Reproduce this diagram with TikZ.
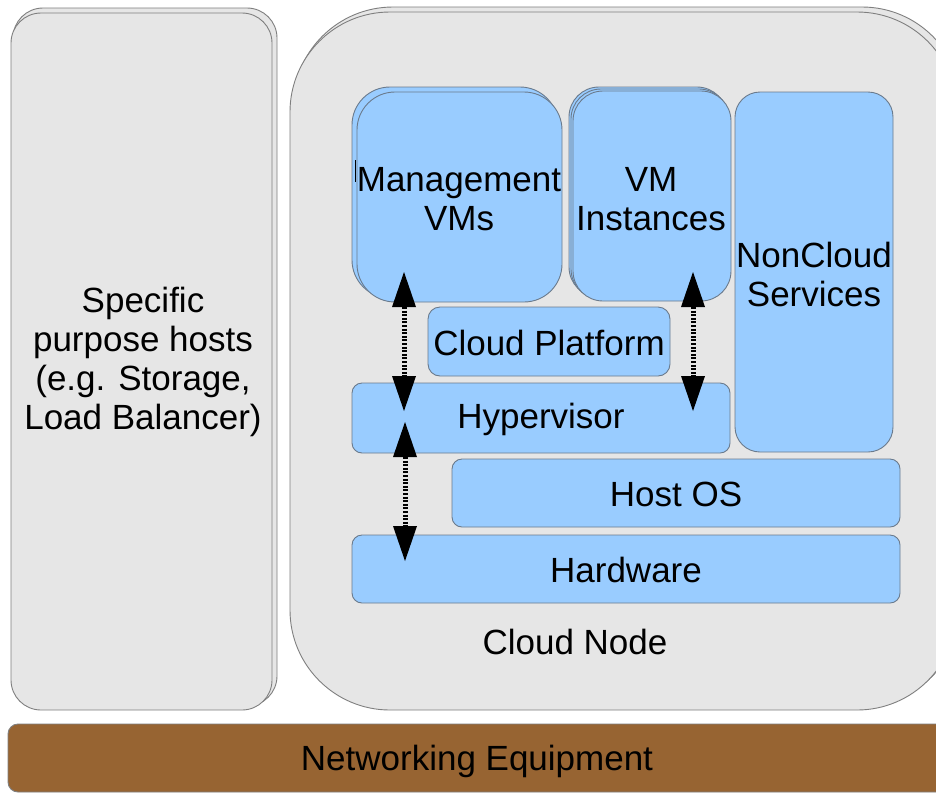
\documentclass[tikz,border=0pt]{standalone}
\usepackage{fontspec}
\setmainfont{Liberation Sans}
\usetikzlibrary{arrows.meta}
\definecolor{panelgray}{HTML}{E6E6E6}
\definecolor{panelline}{HTML}{7F7F7F}
\definecolor{layerblue}{HTML}{99CCFF}
\definecolor{layerline}{HTML}{6A7A8C}
\definecolor{netbrown}{HTML}{976432}
\tikzset{
  base/.style={inner sep=0pt, outer sep=0pt, align=center,
    font=\fontsize{35}{39}\selectfont},
  graypanel/.style={base, draw=panelline, fill=panelgray, line width=0.9pt},
  bluelayer/.style={base, draw=layerline, fill=layerblue, line width=0.9pt},
  netbar/.style={base, draw=panelline, fill=netbrown, line width=0.9pt},
  link/.style={line width=5pt, dash pattern=on 2pt off 1.6pt,
    {Triangle[width=24pt,length=35pt,line width=0pt]}-{Triangle[width=24pt,length=35pt,line width=0pt]}},
}
% box from its corners: #1 name, #2 style, #3 x1, #4 y1, #5 x2, #6 y2, #7 text
\newcommand{\boxat}[7]{%
  \node[#2, minimum width=#5pt-#3pt, minimum height=#6pt-#4pt]
    (#1) at ({(#3+#5)/2},{(#4+#6)/2}) {#7};}
\begin{document}
\begin{tikzpicture}[x=1pt,y=-1pt]
\useasboundingbox (0,0) rectangle (936,793);
\clip (0,0) rectangle (936,793);
\fill[white] (0,0) rectangle (936,793);

% special purpose hosts (stacked)
\boxat{hostsback}{graypanel, rounded corners=30pt}{13}{8}{277}{706}{}
\boxat{hosts}{graypanel, rounded corners=30pt}{11}{13}{272}{710}{}
\node[base] (hoststxt) at (143,362) {Specific\\purpose hosts\\(e.g. Storage,\\Load Balancer)};

% cloud node (stacked)
\boxat{nodeback}{graypanel, rounded corners=100pt}{293}{7}{962}{705}{}
\boxat{cloudnode}{graypanel, rounded corners=100pt}{290}{12}{957}{710}{}
\node[base] (nodetxt) at (575,642) {Cloud Node};

% management VMs (stacked)
\boxat{mgmtback}{bluelayer, rounded corners=38pt}{352}{87}{558}{298}{}
\boxat{mgmt}{bluelayer, rounded corners=38pt}{357}{92}{562}{302}{}
\node[base] (mgmttxt) at (459,199) {Management\\VMs};
\draw[line width=1.3pt] (355.5,160) -- (355.5,182);

% VM instances (stacked)
\boxat{vmback}{bluelayer, rounded corners=30pt}{569}{87}{727}{297}{}
\boxat{vmmid}{bluelayer, rounded corners=30pt}{571}{89}{729}{299}{}
\boxat{vms}{bluelayer, rounded corners=30pt}{573}{91}{731}{301}{}
\node[base] (vmstxt) at (651,199) {VM\\Instances};

% remaining layers
\boxat{noncloud}{bluelayer, rounded corners=25pt}{735}{92}{893}{452}{}
\node[base] (noncloudtxt) at (814,274) {NonCloud\\Services};
\boxat{platform}{bluelayer, rounded corners=12pt}{428}{307}{670}{376}{}
\node[base] (platformtxt) at (549,343) {Cloud Platform};
\boxat{hyper}{bluelayer, rounded corners=10pt}{352}{383}{730}{453}{}
\node[base] (hypertxt) at (541,419) {Hypervisor};
\boxat{hostos}{bluelayer, rounded corners=10pt}{452}{459}{900}{527}{}
\node[base] (hostostxt) at (676,494) {Host OS};
\boxat{hw}{bluelayer, rounded corners=10pt}{352}{535}{900}{603}{}
\node[base] (hwtxt) at (626,570) {Hardware};

% networking equipment
\boxat{net}{netbar, rounded corners=10pt}{8}{724}{946}{792}{}
\node[base] (nettxt) at (477,761) {Networking Equipment};

% interaction arrows
\coordinate (m1) at (404,272);
\coordinate (h1) at (404,411);
\coordinate (h2) at (405,422);
\coordinate (w2) at (405,561);
\coordinate (v1) at (693,272);
\coordinate (h3) at (693,411);
\draw[link] (m1) -- (h1);
\draw[link] (h2) -- (w2);
\draw[link] (v1) -- (h3);
\end{tikzpicture}
\end{document}
